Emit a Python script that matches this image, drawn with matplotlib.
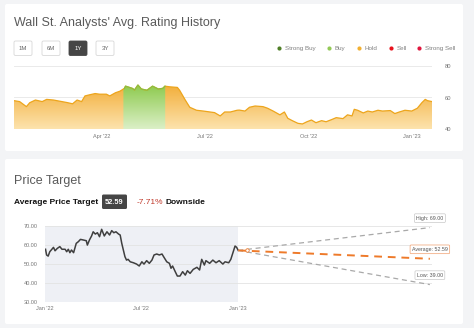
import numpy as np
import matplotlib
matplotlib.use('Agg')
import matplotlib.pyplot as plt
import matplotlib.dates as mdates
from matplotlib.patches import FancyBboxPatch

W, H = 474, 328

# analyst rating history (days since 2022-01-01)
rating_days = [12, 17, 23, 26, 31, 37, 41, 47, 53, 59, 64, 68, 72, 75, 79, 84, 88, 94, 97, 102,
               106, 110, 111, 117, 119, 122, 125, 130, 135, 140, 144, 146, 150, 157, 159, 164, 168, 174, 180, 186,
               190, 195, 199, 204, 210, 212, 217, 221, 226, 233, 237, 242, 248, 252, 255, 259, 264, 268, 272, 276,
               280, 285, 289, 294, 298, 304, 308, 312, 314, 317, 322, 326, 330, 335, 339, 346, 350, 354, 359, 365,
               370, 374, 377, 379, 383]
rating_values = [58.0, 57.4, 54.2, 56.7, 58.4, 57.4, 58.8, 58.4, 57.6, 56.8, 56.0, 58.4, 57.4, 61.0, 61.7, 62.5, 62.1, 62.1, 61.0, 63.0,
                 64.0, 65.8, 67.2, 65.8, 64.8, 67.9, 65.4, 64.6, 67.2, 65.4, 65.8, 67.2, 66.8, 66.4, 64.6, 58.4, 53.8, 51.9, 51.4, 50.8,
                 50.4, 48.3, 50.8, 50.8, 51.9, 52.0, 51.4, 53.8, 54.6, 54.2, 53.2, 51.4, 49.0, 50.8, 46.8, 45.3, 43.6, 43.2, 44.6, 45.7,
                 44.0, 45.3, 44.6, 46.0, 47.2, 46.6, 49.0, 48.3, 52.5, 51.9, 50.2, 51.4, 50.8, 51.9, 51.4, 51.7, 49.8, 50.8, 51.9, 51.4,
                 53.2, 56.7, 58.8, 58.0, 57.4]
buy_start = '2022-04-20'
buy_end = '2022-05-27'

# price history (days since 2022-01-01)
price_days = [1, 3, 6, 9, 13, 16, 19, 23, 28, 32, 38, 41, 44, 47, 50, 54, 59, 63, 67, 72,
              78, 80, 84, 88, 91, 95, 99, 103, 107, 112, 117, 122, 126, 130, 134, 139, 142, 145, 148, 151,
              154, 157, 161, 167, 173, 178, 183, 187, 192, 197, 202, 206, 211, 216, 221, 224, 230, 235, 238, 241,
              246, 250, 255, 260, 265, 269, 274, 280, 287, 292, 296, 301, 304, 311, 317, 323, 329, 336, 340, 347,
              351, 355, 359, 362, 365]
price_values = [57.6, 54.6, 54.0, 56.3, 57.6, 58.6, 56.8, 58.0, 59.0, 57.6, 57.6, 56.3, 57.6, 55.8, 57.2, 55.8, 60.7, 61.6, 62.8, 62.5,
                62.1, 59.8, 62.5, 64.6, 66.8, 65.6, 66.3, 64.2, 68.1, 64.6, 66.8, 65.1, 67.4, 66.3, 66.8, 65.6, 65.1, 60.7, 57.2, 53.7,
                51.9, 52.3, 51.0, 50.5, 49.8, 48.8, 51.0, 49.8, 51.6, 50.2, 51.9, 54.6, 55.1, 54.6, 55.1, 53.7, 51.0, 50.2, 47.6, 48.8,
                45.8, 43.5, 43.5, 45.8, 44.0, 46.3, 44.9, 47.0, 48.1, 46.7, 52.3, 49.3, 51.6, 50.2, 51.9, 50.5, 51.6, 49.8, 51.0, 50.5,
                52.3, 55.8, 59.3, 58.6, 57.0]

target_names = ['High', 'Average', 'Low']
target_values = [69.00, 52.59, 39.00]
target_date = '2023-12-29'
current_price = 56.99
downside_pct = -7.71

legend_names = ['Strong Buy', 'Buy', 'Hold', 'Sell', 'Strong Sell']
legend_colors = ['#4f7f27', '#93c956', '#f2b031', '#e8121c', '#e0163e']
range_buttons = ['1M', '6M', '1Y', '3Y']

base = np.datetime64('2022-01-01')
rating_dates = base + np.array(rating_days).astype('timedelta64[D]')
price_dates = base + np.array(price_days).astype('timedelta64[D]')

plt.rcParams['font.family'] = ['Liberation Sans', 'DejaVu Sans']
fig = plt.figure(figsize=(W / 100, H / 100), dpi=100, facecolor='#f3f4f6')


def fx(px):
    return px / W


def fy(py):
    return 1 - py / H


# background layer in pixel coordinates
bg = fig.add_axes([0, 0, 1, 1], zorder=0)
bg.set_xlim(0, W)
bg.set_ylim(H, 0)
bg.axis('off')


def rbox(x0, y0, x1, y1, r=1.5, **kw):
    bg.add_patch(FancyBboxPatch((x0, y0), x1 - x0, y1 - y0,
                                boxstyle=f'round,pad=0,rounding_size={r}', **kw))


rbox(5, 4, 463, 151, r=2, fc='white', ec='none')
rbox(5, 159, 463, 324, r=2, fc='white', ec='none')

# --- rating history header ---
bg.text(14, 23, "Wall St. Analysts' Avg. Rating History", fontsize=9, color='#5a5a5a', va='center')
btn_x = [14, 42, 69, 96]
for label, bx in zip(range_buttons, btn_x):
    active = label == '1Y'
    rbox(bx, 41, bx + 18, 55.5, r=1.5, fc='#454545' if active else 'white',
         ec='#454545' if active else '#d8d8d8', lw=0.6)
    bg.text(bx + 9, 48.5, label, ha='center', va='center', fontsize=4.3,
            color='white' if active else '#666666')

leg_x = [279, 329, 359, 391, 419]
for name, c, lx in zip(legend_names, legend_colors, leg_x):
    bg.scatter([lx], [48.3], s=9, color=c, lw=0)
    bg.text(lx + 6, 48.5, name, fontsize=4.5, color='#808080', va='center')

# --- rating history chart ---
ax1 = fig.add_axes([fx(14), fy(129), fx(432) - fx(14), fy(66) - fy(129)], zorder=1)
ax1.patch.set_alpha(0)
xs = mdates.date2num(rating_dates)
b0 = mdates.date2num(np.datetime64(buy_start))
b1 = mdates.date2num(np.datetime64(buy_end))

cols = np.linspace(xs[0], xs[-1], 600)
t = np.linspace(0, 1, 120)[:, None, None]
in_buy = ((cols >= b0) & (cols <= b1))[None, :, None]
org_top, org_bot = np.array([0.95, 0.68, 0.22]), np.array([0.99, 0.89, 0.68])
grn_top, grn_bot = np.array([0.55, 0.79, 0.30]), np.array([0.86, 0.94, 0.78])
top = np.where(in_buy, grn_top, org_top)
bot = np.where(in_buy, grn_bot, org_bot)
img = bot * (1 - t) + top * t
poly = ax1.fill_between(xs, rating_values, 40, color='none', lw=0)
im = ax1.imshow(img, extent=(xs[0], xs[-1], 40, 68), origin='lower', aspect='auto',
                interpolation='bilinear', zorder=1)
im.set_clip_path(poly.get_paths()[0], transform=ax1.transData)

rv = np.array(rating_values)
ax1.plot(rating_dates, rv, color='#eda51c', lw=0.9, zorder=3)
buy_mask = (xs >= b0 - 1) & (xs <= b1 + 1)
ax1.plot(rating_dates[buy_mask], rv[buy_mask], color='#86c043', lw=0.9, zorder=4)

ax1.set_xlim(xs[0], xs[-1])
ax1.set_ylim(40, 80)
ax1.set_yticks([40, 60, 80])
ax1.yaxis.tick_right()
ax1.grid(axis='y', color='#e6e6e6', lw=0.6, zorder=0)
ax1.xaxis.set_major_locator(mdates.MonthLocator(bymonth=[1, 4, 7, 10]))
ax1.xaxis.set_major_formatter(mdates.DateFormatter("%b '%y"))
ax1.tick_params(axis='x', length=0, labelsize=4, labelcolor='#777777', pad=3.5)
ax1.tick_params(axis='y', length=0, labelsize=4.2, labelcolor='#777777', pad=9)
for s in ax1.spines.values():
    s.set_visible(False)
ax1.set_axisbelow(True)

# --- price target header ---
bg.text(14, 181, 'Price Target', fontsize=9, color='#5a5a5a', va='center')
bg.text(14, 202, 'Average Price Target', fontsize=6, fontweight='bold', color='#111111', va='center')
rbox(102, 194.5, 127, 209, r=1.5, fc='#454545', ec='none')
bg.text(114.5, 202, f'{target_values[1]:.2f}', fontsize=5.3, fontweight='bold', color='white',
        ha='center', va='center')
bg.text(137, 202, f'{downside_pct:.2f}%', fontsize=6, color='#c0392b', va='center')
bg.text(166, 202, 'Downside', fontsize=6, fontweight='bold', color='#111111', va='center')

# --- price target chart ---
ax2 = fig.add_axes([fx(45), fy(301.7), fx(432) - fx(45), fy(225.7) - fy(301.7)], zorder=1)
ax2.patch.set_alpha(0)
ax2.axvspan(np.datetime64('2022-01-01'), np.datetime64('2023-01-01'), color='#eef0f5', lw=0, zorder=0)
ax2.plot(price_dates, price_values, color='#3f3f3f', lw=1.1, zorder=3)

start = price_dates[-1]
end = np.datetime64(target_date)
for name, val in zip(target_names, target_values):
    avg = name == 'Average'
    c = '#ee7a2a' if avg else '#a9a9a9'
    ax2.plot([start, end], [current_price, val], color=c, lw=1.4 if avg else 0.9,
             dashes=(4, 3), zorder=4 if avg else 3)
    ax2.annotate(f'{name}: {val:.2f}', xy=(end, val), xytext=(0, 6.8), textcoords='offset points',
                 ha='center', va='center', fontsize=3.8, color='#555555', annotation_clip=False,
                 bbox=dict(boxstyle='round,pad=0.35,rounding_size=0.2', fc='white',
                           ec='#f0a070' if avg else '#c8c8c8', lw=0.5), zorder=6)
ax2.plot([start + np.timedelta64(16, 'D')], [current_price], marker='o', ms=2.5, mfc='white',
         mec='#ee7a2a', mew=0.6, zorder=5)

ax2.set_xlim(np.datetime64('2022-01-01'), np.datetime64('2024-01-02'))
ax2.set_ylim(30, 70)
ax2.set_yticks([30, 40, 50, 60, 70])
ax2.yaxis.set_major_formatter(plt.FuncFormatter(lambda v, p: f'{v:.2f}'))
ax2.set_xticks([np.datetime64('2022-01-01'), np.datetime64('2022-07-01'), np.datetime64('2023-01-01')])
ax2.set_xticklabels(["Jan '22", "Jul '22", "Jan '23"])
ax2.grid(axis='y', color='#e3e3e3', lw=0.6, zorder=1)
ax2.tick_params(axis='x', length=0, labelsize=4, labelcolor='#777777', pad=3)
ax2.tick_params(axis='y', length=0, labelsize=4, labelcolor='#777777', pad=5)
for s in ax2.spines.values():
    s.set_visible(False)

fig.savefig('out.png', dpi=100, facecolor=fig.get_facecolor())
